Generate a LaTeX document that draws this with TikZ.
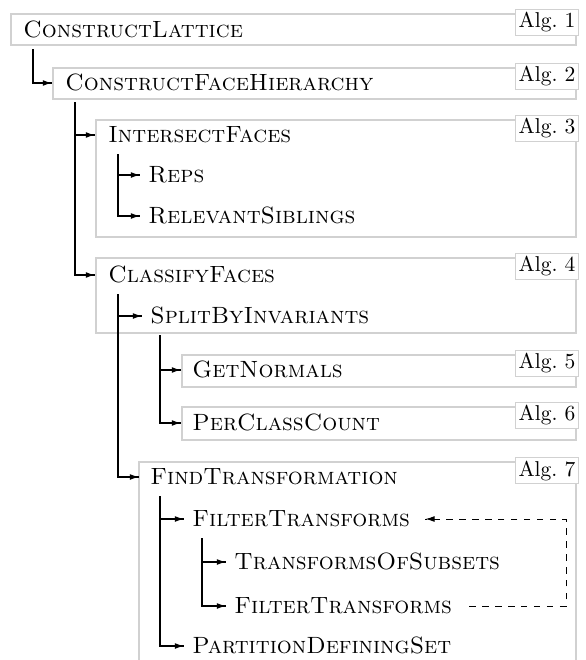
\documentclass[tikz,border=0pt]{standalone}
\usepackage{amsmath}
\usepackage{tikz}
\usetikzlibrary{positioning, calc, fit, arrows, arrows.meta, decorations.markings}
\tikzstyle{Arrow} = [
%Call connector with a latex head:
semithick,
decoration={
markings,
mark=at position 1 with {
\arrow[semithick]{Latex[length=4.2pt, width=2.7pt]}
}
},
preaction = {decorate}
]
\tikzstyle{BackArrow} = [
%Dashed recursion connector:
thin, dashed,
decoration={
markings,
mark=at position 1 with {
\arrow[thin, solid]{Latex[length=4.2pt, width=2.7pt]}
}
},
preaction = {decorate}
]

\begin{document}
\begin{tikzpicture}[x = 0.465pt, y = 0.465pt,
					      call/.style = {anchor = west, font = \fontsize{10.95}{13.6}\selectfont\scshape, inner xsep = 3.7pt, inner ysep = 5.1pt, text height = 7.4pt, text depth = 0pt},
					      algbox/.style = {draw = black!18, line width = 1pt, inner sep = 0pt},
					      alglabel/.style = {draw = black!18, fill = white, anchor = north east, inner sep = 1.5pt},
				      ]
				      \useasboundingbox (0,0) rectangle (585,-660);

				      % frames of the algorithms
				      \node[algbox, fit = {(11,-14) (576,-45)}] (bCL) {};
				      \node[algbox, fit = {(53,-68) (576,-99)}] (bCFH) {};
				      \node[algbox, fit = {(96,-120) (576,-237)}] (bIF) {};
				      \node[algbox, fit = {(96,-258) (576,-333)}] (bCF) {};
				      \node[algbox, fit = {(182,-355) (576,-387)}] (bGN) {};
				      \node[algbox, fit = {(182,-407) (576,-440)}] (bPCC) {};
				      \draw[algbox] (139,-660) coordinate (bFT) |- (576,-462) coordinate (bFTne) -- (576,-660);

				      \node[alglabel] (a1) at ($(bCL.north east)+(2,4)$) {Alg.~1};
				      \node[alglabel] (a2) at ($(bCFH.north east)+(2,4)$) {Alg.~2};
				      \node[alglabel] (a3) at ($(bIF.north east)+(2,4)$) {Alg.~3};
				      \node[alglabel] (a4) at ($(bCF.north east)+(2,4)$) {Alg.~4};
				      \node[alglabel] (a5) at ($(bGN.north east)+(2,4)$) {Alg.~5};
				      \node[alglabel] (a6) at ($(bPCC.north east)+(2,4)$) {Alg.~6};
				      \node[alglabel] (a7) at ($(bFTne)+(3,5)$) {Alg.~7};

				      % calls
				      \node[call] (CL) at (15,-30) {ConstructLattice};
				      \node[call] (CFH) at (57,-83) {ConstructFaceHierarchy};
				      \node[call] (IF) at (100,-135) {IntersectFaces};
				      \node[call] (Reps) at (140,-175) {Reps};
				      \node[call] (RS) at (140,-216) {RelevantSiblings};
				      \node[call] (CF) at (100,-275) {ClassifyFaces};
				      \node[call] (SBI) at (142,-316) {SplitByInvariants};
				      \node[call] (GN) at (184,-370) {GetNormals};
				      \node[call] (PCC) at (184,-423) {PerClassCount};
				      \node[call] (FT) at (142,-477) {FindTransformation};
				      \node[call] (FiT) at (184,-519) {FilterTransforms};
				      \node[call] (TOS) at (226,-562) {TransformsOfSubsets};
				      \node[call] (FiT2) at (226,-606) {FilterTransforms};
				      \node[call] (PDS) at (184,-646) {PartitionDefiningSet};

				      \draw[Arrow]([xshift = 8.4pt]CL.south west) |- (CFH.west -| bCFH.west);
				      \draw[Arrow]([xshift = 8.4pt]CFH.south west) |- (IF.west -| bIF.west);
				      \draw[Arrow]([xshift = 8.4pt]CFH.south west) |- (CF.west -| bCF.west);
				      \draw[Arrow]([xshift = 8.4pt]IF.south west) |- (Reps.west);
				      \draw[Arrow]([xshift = 8.4pt]IF.south west) |- (RS.west);
				      \draw[Arrow]([xshift = 8.4pt]CF.south west) |- (SBI.west);
				      \draw[Arrow]([xshift = 8.4pt]CF.south west) |- (FT.west -| bFT);
				      \draw[Arrow]([xshift = 8.4pt]SBI.south west) |- (GN.west -| bGN.west);
				      \draw[Arrow]([xshift = 8.4pt]SBI.south west) |- (PCC.west -| bPCC.west);
				      \draw[Arrow]([xshift = 8.4pt]FT.south west) |- (FiT.west);
				      \draw[Arrow]([xshift = 8.4pt]FT.south west) |- (PDS.west);
				      \draw[Arrow]([xshift = 8.4pt]FiT.south west) |- (TOS.west);
				      \draw[Arrow]([xshift = 8.4pt]FiT.south west) |- (FiT2.west);

				      \coordinate (back) at (566,-560);
				      \draw[BackArrow]([xshift = 4.2pt]FiT2.east) -- (FiT2.east -| back) |- ([xshift = 3.3pt]FiT.east);
			      \end{tikzpicture}
\end{document}
